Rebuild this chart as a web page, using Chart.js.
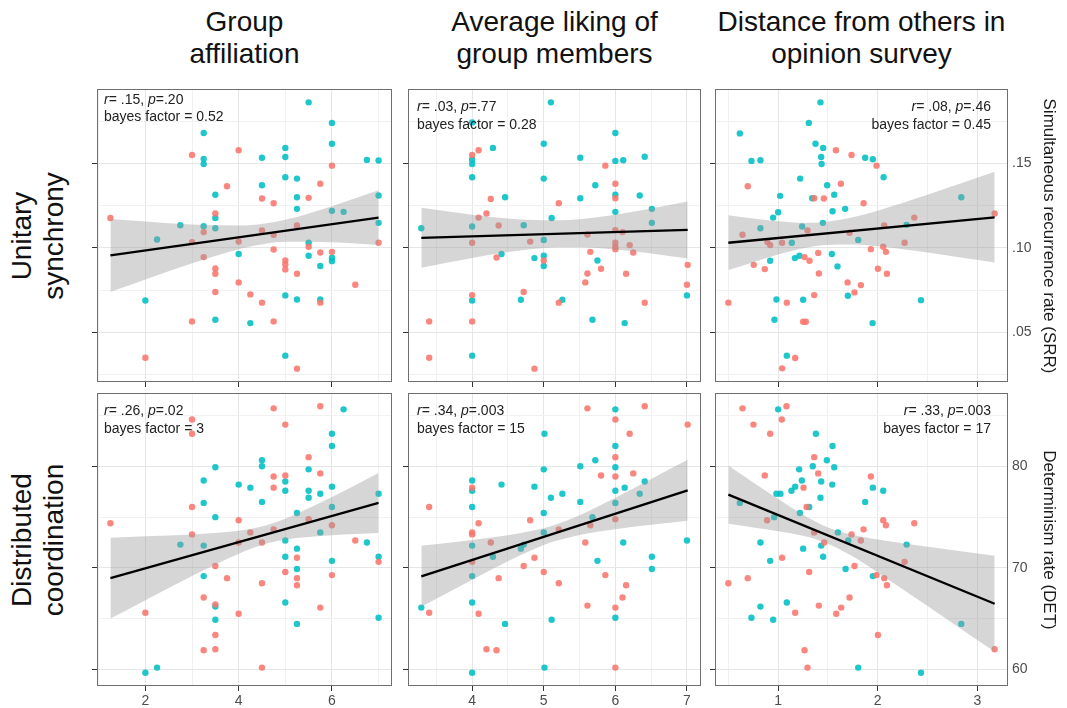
<!DOCTYPE html>
<html>
<head>
<meta charset="utf-8">
<script src="https://cdn.jsdelivr.net/npm/chart.js@4.4.1/dist/chart.umd.min.js"></script>
<style>
  html,body{margin:0;padding:0;}
  body{width:1067px;height:708px;overflow:hidden;background:#fff;position:relative;font-family:"Liberation Sans",Arial,sans-serif;}
  canvas{position:absolute;}
  .coltitle{position:absolute;width:340px;text-align:center;font-size:28px;line-height:32px;color:#111;top:6px;}
  .rowlab{position:absolute;width:260px;height:64px;line-height:32px;font-size:28px;text-align:center;color:#111;transform:rotate(-90deg);}
  .rtitle{position:absolute;width:360px;height:20px;line-height:20px;font-size:17px;text-align:center;color:#1a1a1a;transform:rotate(90deg);white-space:nowrap;}
  .stat{position:absolute;font-size:14px;line-height:17.5px;color:#222;white-space:nowrap;}
</style>
</head>
<body>
<script>
// ---------- categories / labels ----------
const colTitles = ['Group<br>affiliation', 'Average liking of<br>group members', 'Distance from others in<br>opinion survey'];
const rowTitles = ['Unitary<br>synchrony', 'Distributed<br>coordination'];
const rightTitles = ['Simultaneous recurrence rate (SRR)', 'Determinism rate (DET)'];
const statR = ['.15', '.03', '.08', '.26', '.34', '.33'];
const statP = ['.20', '.77', '.46', '.02', '.003', '.003'];
const statBF = ['0.52', '0.28', '0.45', '3', '15', '17'];

// ---------- axis ranges & ticks ----------
const affilRange = [0.9625, 7.2875];
const likingRange = [3.104, 7.196];
const distRange = [0.366, 3.308];
const srrRange = [0.0205, 0.1941];
const detRange = [58.39, 87.21];
const affilGridX = [1, 2, 3, 4, 5, 6, 7];
const affilTickX = [2, 4, 6];
const likingGridX = [3.5, 4, 4.5, 5, 5.5, 6, 6.5, 7];
const likingTickX = [4, 5, 6, 7];
const distGridX = [0.5, 1, 1.5, 2, 2.5, 3];
const distTickX = [1, 2, 3];
const srrGridY = [0.025, 0.05, 0.075, 0.10, 0.125, 0.15, 0.175];
const srrTickY = [0.05, 0.10, 0.15];
const srrTickLabels = ['.05', '.10', '.15'];
const detGridY = [60, 65, 70, 75, 80, 85];
const detTickY = [60, 70, 80];
const detTickLabels = ['60', '70', '80'];

// ---------- series: SRR (top row) ----------
const affilSrrRed = [[1.25,.1177],[4,.1578],[3,.155],[6,.1487],[5.75,.138],[3.75,.1365],[4.5,.1292],[5.5,.1296],[4.75,.1264],[3.5,.1203],[3.25,.1093],[4.5,.1103],[4.75,.1077],[3,.1034],[4,.1037],[7,.103],[5.5,.1006],[4.75,.099],[5.75,.0972],[6,.0976],[3.25,.0945],[5,.0925],[5,.0901],[5,.0872],[3.5,.0878],[3.5,.0846],[5.25,.0846],[4,.0795],[6.5,.0781],[3.5,.0738],[4.25,.0724],[5.75,.0675],[4.5,.0675],[3,.0564],[4.75,.0564],[2,.0349],[5.25,.0284],[5.25,.1132]];
const affilSrrTeal = [[5.5,.1862],[6,.174],[3.25,.168],[6,.1617],[5,.1592],[5,.1538],[4.5,.1534],[3.25,.1527],[3.25,.1497],[6.75,.1521],[7,.1517],[5,.1418],[5.25,.141],[3.5,.1314],[4.5,.1371],[5.25,.13],[7,.131],[5.25,.1231],[6,.1219],[6.25,.1213],[3.5,.1177],[2.75,.1134],[3.25,.1128],[7,.1148],[3.5,.1116],[2.25,.1049],[5.5,.103],[4,.0963],[5.5,.0953],[6,.0941],[6,.0921],[5.75,.0892],[5,.0718],[2,.0688],[5.25,.0694],[5.75,.0694],[3.5,.0574],[4.25,.0554],[5,.0361]];
const likingSrrRed = [[4.09,.1578],[4,.155],[5.86,.1487],[6,.138],[6,.1294],[4.26,.129],[5.21,.1264],[4.2,.1203],[4.09,.1179],[4.37,.1132],[6,.1105],[6.1,.1093],[5.61,.1079],[4.81,.1037],[4,.103],[6,.103],[6,.1006],[6,.0992],[6.2,.1016],[6.25,.0972],[5.65,.0976],[4.34,.0943],[5,.0925],[7.01,.0899],[5.8,.0876],[5.61,.0848],[6.15,.0846],[5.58,.0795],[7,.0781],[4,.072],[4.72,.0738],[5.21,.0675],[6.41,.0675],[3.4,.0564],[4,.0564],[3.4,.0349],[4.87,.0284]];
const likingSrrTeal = [[5.1,.1862],[6,.168],[4,.1743],[5,.1617],[4.29,.1592],[4,.1523],[4,.1497],[5.51,.1534],[6,.1515],[6.11,.1519],[6.41,.154],[4,.1418],[5,.141],[5.72,.1371],[6,.1314],[5.51,.1294],[6.34,.131],[4.46,.13],[6.51,.1231],[6,.1213],[5.11,.1177],[6.51,.1148],[3.29,.1116],[4,.1126],[4.72,.1134],[5,.1047],[5,.0953],[4.41,.0963],[4.87,.0939],[5.75,.0925],[5,.0892],[7,.0718],[4,.0688],[4.68,.0692],[5.26,.0692],[5.68,.0574],[6.13,.0554],[4,.0361]];
const distSrrRed = [[1.58,.1578],[1.737,.155],[1.988,.1487],[0.695,.1365],[1.63,.138],[1.362,.1294],[1.459,.1292],[1.858,.1264],[2.367,.1179],[3.174,.1203],[2.065,.1132],[1.295,.1103],[1.717,.1089],[0.642,.1077],[0.893,.1034],[0.92,.1016],[1.04,.103],[2.27,.103],[2.055,.1006],[1.931,.0992],[2.082,.0976],[1.402,.097],[1.265,.0945],[1.315,.0923],[0.755,.0899],[0.866,.0874],[2.002,.0876],[1.409,.0848],[2.092,.0846],[1.697,.0795],[1.831,.0779],[1.767,.0736],[1.362,.072],[0.5,.0675],[1.087,.0675],[1.251,.0562],[1.278,.0562],[1.171,.0347],[1.04,.0286]];
const distSrrTeal = [[1.425,.1862],[1.308,.174],[0.615,.1678],[1.375,.1617],[1.452,.1592],[1.432,.1538],[0.732,.1515],[0.822,.1519],[1.436,.1497],[1.874,.1534],[1.951,.1525],[2.059,.1418],[1.221,.141],[1.492,.1371],[1.02,.1308],[1.563,.1314],[1.342,.1294],[2.839,.13],[1.673,.1231],[1.546,.1217],[1.0,.1211],[0.95,.1179],[1.449,.1148],[1.241,.1126],[0.822,.1116],[2.29,.1136],[1.137,.103],[1.804,.1047],[1.539,.0963],[1.214,.0953],[1.168,.0939],[0.92,.0923],[1.596,.089],[1.7,.0716],[0.983,.0694],[1.251,.0692],[2.434,.069],[0.963,.0574],[1.948,.0554],[1.087,.0361]];

// ---------- series: DET (bottom row) ----------
const affilDetRed = [[5.75,85.9],[4.75,85.7],[3,84.6],[3,83.2],[5,84.1],[5.5,80.9],[5.75,79.3],[4.75,79],[5,79.1],[4.75,77.9],[3,76],[1.25,74.4],[4,74.7],[5.5,74.8],[6,74.2],[4.75,73.8],[4.25,73.5],[3,73.3],[4.5,72.5],[4,72.5],[6.5,72.7],[5.25,71],[7,70.6],[3.5,70.2],[5,69.6],[6,69.3],[3.75,69],[5.25,69],[4.5,68.5],[5.25,68.3],[3.25,67.1],[3.5,66.4],[5.75,66.1],[2,65.6],[4,65.5],[3.5,63.4],[3.25,61.9],[3.5,62],[4.5,60.2]];
const affilDetTeal = [[6.25,85.6],[6,83.2],[6,82],[4.5,80.6],[4.5,80],[3.5,79.9],[5.5,79.7],[3.25,78.6],[5,78.5],[4,78.2],[4.25,77.9],[6,78],[5,77.6],[5.5,77.6],[5.5,76.9],[5.75,77.3],[7,77.3],[4.5,76.5],[3.25,76.4],[6,76],[3.5,75],[5.25,75.4],[5.75,73.5],[5,72.7],[6.75,72.5],[2.75,72.3],[3.25,72.2],[5.25,71.9],[5,71.1],[7,71.1],[6,70.7],[5.25,69.9],[3.25,69.2],[5,66.6],[3.5,66.2],[3.5,64.9],[7,65.1],[5.25,64.5],[2.25,60.2],[2,59.7]];
const likingDetRed = [[5.61,85.7],[6.41,85.9],[6,84.6],[7.01,84.1],[6.2,83.2],[6,80.9],[6.25,79.3],[5.8,79.1],[6,79],[4,77.9],[3.4,76],[4.81,74.7],[6,74.8],[4.09,74.4],[5.65,74.2],[5.21,73.8],[4,73.5],[4,73.3],[4.26,72.5],[5.58,72.5],[4.87,71],[4,70.6],[4.72,70.2],[5,69.6],[5.86,69.3],[4.37,69],[5.21,68.5],[6.15,68.3],[6.1,67.1],[5.61,66.3],[6,66.1],[3.4,65.6],[4.09,65.5],[4.2,62],[4.34,61.9],[6,60.2]];
const likingDetTeal = [[6,85.6],[5.01,83.2],[6,82],[5.72,80.6],[5.51,80],[6,79.9],[5,79.7],[4,78.6],[6.41,78.5],[4.41,78.2],[4.87,78],[6.13,77.9],[4,77.6],[6,77.6],[5.26,77.3],[6.34,77.3],[5.1,76.9],[5.51,76.5],[6,76.4],[4,76],[5,75.4],[5.68,75],[5,73.5],[6.11,72.5],[7,72.7],[4.72,72.3],[4.68,71.9],[4,72.2],[4.29,71.1],[6.51,71.1],[5.75,70.7],[6.51,69.9],[4,69.2],[4,66.6],[3.29,66.1],[6,65.1],[5.11,64.9],[4.46,64.5],[5.01,60.2],[4,59.7]];
const distDetRed = [[0.642,85.7],[1.084,85.9],[0.752,84.1],[1.037,84.6],[0.92,83.2],[1.362,80.9],[1.402,79.3],[0.866,79.1],[1.931,79],[1.255,77.9],[1.285,76],[0.889,74.7],[2.055,74.7],[2.367,74.4],[2.082,74.2],[1.858,73.8],[1.362,73.5],[1.737,73.3],[1.462,72.5],[1.831,72.7],[1.04,71],[2.27,70.6],[1.767,70.2],[1.312,69.6],[1.988,69.3],[2.065,69],[0.695,69],[0.5,68.5],[2.092,68.3],[1.717,67.1],[1.409,66.3],[1.633,66.1],[1.171,65.6],[1.583,65.5],[2.002,63.4],[1.265,61.9],[3.174,62],[1.295,60.2]];
const distDetTeal = [[1.0,85.6],[1.379,83.2],[1.546,82],[1.489,80.6],[1.348,80],[1.563,79.9],[1.211,79.7],[1.238,78.6],[1.432,78.5],[1.171,78],[1.543,78.2],[1.951,77.9],[1.134,77.6],[2.055,77.6],[0.983,77.3],[1.023,77.3],[1.425,76.9],[1.874,76.5],[0.615,76.4],[1.312,76],[1.218,75.4],[0.96,75],[1.6,73.5],[1.704,72.7],[0.822,72.5],[2.29,72.3],[1.432,72.2],[1.251,71.9],[1.452,71.1],[0.92,70.7],[1.677,69.9],[1.951,69.2],[1.087,66.6],[0.822,66.2],[0.732,65.1],[0.95,64.9],[2.839,64.5],[1.804,60.2],[2.434,59.7]];

// ---------- fitted lines & confidence bands ----------
const affilSrrFitX = [1.25, 7], affilSrrFitY = [.0955, .1179];
const likingSrrFitX = [3.29, 7.01], likingSrrFitY = [.1059, .1106];
const distSrrFitX = [0.5, 3.174], distSrrFitY = [.103, .1181];
const affilDetFitX = [1.25, 7], affilDetFitY = [69.0, 76.4];
const likingDetFitX = [3.29, 7.01], likingDetFitY = [69.18, 77.64];
const distDetFitX = [0.5, 3.174], distDetFitY = [77.21, 66.48];

const affilSrrBandX = [1.25,2,3,4,4.6,5,6,7];
const affilSrrBandLo = [.0739,.0812,.0908,.0992,.1026,.1036,.1033,.1017];
const affilSrrBandHi = [.1171,.1156,.1138,.1132,.1146,.1166,.1247,.1341];
const likingSrrBandX = [3.29,4,4.5,5,5.2,5.5,6,6.5,7.01];
const likingSrrBandLo = [.0882,.094,.0975,.0999,.1003,.1004,.099,.0967,.0937];
const likingSrrBandHi = [.1237,.1196,.1173,.1163,.1163,.117,.1196,.1233,.1275];
const distSrrBandX = [0.5,0.75,1,1.25,1.47,1.75,2,2.5,3.174];
const distSrrBandLo = [.0868,.0915,.096,.0997,.1017,.102,.1009,.0972,.0913];
const distSrrBandHi = [.1193,.1173,.1157,.1148,.1153,.1181,.122,.1314,.145];
const affilDetBandX = [1.25,2,3,4,4.6,5,6,7];
const affilDetBandLo = [65.02,66.83,69.2,71.41,72.41,72.81,73.23,73.45];
const affilDetBandHi = [72.98,73.11,73.3,73.67,74.21,74.85,76.99,79.35];
const likingDetBandX = [3.29,4,4.5,5,5.15,5.5,6,6.5,7.01];
const likingDetBandLo = [66.18,68.84,70.66,72.25,72.62,73.25,73.81,74.24,74.64];
const likingDetBandHi = [72.18,72.76,73.22,73.91,74.22,75.19,76.91,78.76,80.64];
const distDetBandX = [0.5,0.75,1,1.25,1.5,1.75,2,2.5,3.174];
const distDetBandLo = [74.34,73.99,73.62,73.16,72.39,71.12,69.56,66.26,61.75];
const distDetBandHi = [80.08,78.41,76.78,75.24,73.99,73.26,72.8,72.08,71.21];

// ---------- layout ----------
const colEdges = [[97, 392], [408, 701], [715, 1008]];
const rowEdges = [[89, 382], [393, 686]];
const RED = 'rgba(248,118,109,0.88)';
const TEAL = 'rgba(0,191,196,0.88)';

Chart.defaults.font.family = '"Liberation Sans", Arial, sans-serif';

const xAxes = [
  {range: affilRange, grid: affilGridX, ticks: affilTickX},
  {range: likingRange, grid: likingGridX, ticks: likingTickX},
  {range: distRange, grid: distGridX, ticks: distTickX}
];
const yAxes = [
  {range: srrRange, grid: srrGridY, ticks: srrTickY, labels: srrTickLabels},
  {range: detRange, grid: detGridY, ticks: detTickY, labels: detTickLabels}
];
const panels = [
  {r:0,c:0, red:affilSrrRed, teal:affilSrrTeal, fx:affilSrrFitX, fy:affilSrrFitY, bx:affilSrrBandX, lo:affilSrrBandLo, hi:affilSrrBandHi},
  {r:0,c:1, red:likingSrrRed, teal:likingSrrTeal, fx:likingSrrFitX, fy:likingSrrFitY, bx:likingSrrBandX, lo:likingSrrBandLo, hi:likingSrrBandHi},
  {r:0,c:2, red:distSrrRed, teal:distSrrTeal, fx:distSrrFitX, fy:distSrrFitY, bx:distSrrBandX, lo:distSrrBandLo, hi:distSrrBandHi},
  {r:1,c:0, red:affilDetRed, teal:affilDetTeal, fx:affilDetFitX, fy:affilDetFitY, bx:affilDetBandX, lo:affilDetBandLo, hi:affilDetBandHi},
  {r:1,c:1, red:likingDetRed, teal:likingDetTeal, fx:likingDetFitX, fy:likingDetFitY, bx:likingDetBandX, lo:likingDetBandLo, hi:likingDetBandHi},
  {r:1,c:2, red:distDetRed, teal:distDetTeal, fx:distDetFitX, fy:distDetFitY, bx:distDetBandX, lo:distDetBandLo, hi:distDetBandHi}
];

const near = (arr, v) => arr.some(a => Math.abs(a - v) < 1e-6);
const pts = arr => arr.map(p => ({x: p[0], y: p[1]}));
const zip = (xs, ys) => xs.map((x, i) => ({x: x, y: ys[i]}));
const noPad = s => { s.paddingTop = 0; s.paddingBottom = 0; s.paddingLeft = 0; s.paddingRight = 0; };

const boxPlugin = {
  id: 'panelBox',
  afterDraw(chart) {
    const a = chart.chartArea, ctx = chart.ctx;
    ctx.save();
    ctx.strokeStyle = '#6f6f6f';
    ctx.lineWidth = 1;
    ctx.strokeRect(Math.round(a.left) + 0.5, Math.round(a.top) + 0.5, Math.round(a.right - a.left) - 1, Math.round(a.bottom - a.top) - 1);
    ctx.restore();
  }
};

panels.forEach((p, idx) => {
  const [L, R] = colEdges[p.c];
  const [T, B] = rowEdges[p.r];
  const xa = xAxes[p.c], ya = yAxes[p.r];
  const hasRight = p.c === 2;
  const bottomRow = p.r === 1;
  const rightW = hasRight ? 45 : 2;
  const bottomH = bottomRow ? (708 - B) : 7;
  const W = (R - L) + 10 + rightW, H = (B - T) + 4 + bottomH;
  const cv = document.createElement('canvas');
  cv.width = W; cv.height = H;
  cv.style.left = (L - 10) + 'px'; cv.style.top = (T - 4) + 'px';
  cv.style.width = W + 'px'; cv.style.height = H + 'px';
  document.body.appendChild(cv);

  const scales = {
    x: {
      type: 'linear', position: 'bottom', min: xa.range[0], max: xa.range[1],
      afterBuildTicks: s => { s.ticks = xa.grid.map(v => ({value: v})); },
      afterFit: s => { s.height = bottomH; noPad(s); },
      border: {display: false},
      grid: {
        color: c => near(xa.ticks, c.tick.value) ? '#e6e6e6' : '#f1f1f1',
        lineWidth: 1, drawTicks: true, tickLength: 5,
        tickColor: c => near(xa.ticks, c.tick.value) ? '#333333' : 'rgba(0,0,0,0)'
      },
      ticks: {
        display: bottomRow, autoSkip: false, maxRotation: 0, padding: 2,
        color: '#4d4d4d', font: {size: 14},
        callback: v => near(xa.ticks, v) ? String(v) : ''
      }
    },
    y: {
      type: 'linear', position: 'left', min: ya.range[0], max: ya.range[1],
      afterBuildTicks: s => { s.ticks = ya.grid.map(v => ({value: v})); },
      afterFit: s => { s.width = 10; noPad(s); },
      border: {display: false},
      grid: {
        color: c => near(ya.ticks, c.tick.value) ? '#e6e6e6' : '#f1f1f1',
        lineWidth: 1, drawTicks: true, tickLength: 5,
        tickColor: c => near(ya.ticks, c.tick.value) ? '#333333' : 'rgba(0,0,0,0)'
      },
      ticks: {display: false}
    }
  };
  if (hasRight) {
    scales.y2 = {
      type: 'linear', position: 'right', min: ya.range[0], max: ya.range[1],
      afterBuildTicks: s => { s.ticks = ya.ticks.map(v => ({value: v})); },
      afterFit: s => { s.width = rightW; noPad(s); },
      border: {display: false},
      grid: {display: false, drawTicks: false},
      ticks: {
        padding: 4, color: '#4d4d4d', font: {size: 14},
        callback: v => { const i = ya.ticks.findIndex(t => Math.abs(t - v) < 1e-6); return i >= 0 ? ya.labels[i] : ''; }
      }
    };
  }

  new Chart(cv, {
    type: 'line',
    data: {
      datasets: [
        {label: 'band-lo', data: zip(p.bx, p.lo), borderColor: 'rgba(0,0,0,0)', borderWidth: 0, pointRadius: 0, fill: false, order: 2, cubicInterpolationMode: 'monotone'},
        {label: 'band-hi', data: zip(p.bx, p.hi), borderColor: 'rgba(0,0,0,0)', borderWidth: 0, pointRadius: 0, fill: '-1', backgroundColor: 'rgba(153,153,153,0.4)', order: 2, cubicInterpolationMode: 'monotone'},
        {label: 'fit', data: zip(p.fx, p.fy), borderColor: '#000', borderWidth: 2.3, pointRadius: 0, fill: false, order: 1},
        {label: 'group A', data: pts(p.red), showLine: false, pointRadius: 3.2, pointBorderWidth: 0, pointBackgroundColor: RED, pointBorderColor: RED, order: 3},
        {label: 'group B', data: pts(p.teal), showLine: false, pointRadius: 3.2, pointBorderWidth: 0, pointBackgroundColor: TEAL, pointBorderColor: TEAL, order: 3}
      ]
    },
    options: {
      responsive: false, animation: false, devicePixelRatio: 1,
      layout: {autoPadding: false, padding: {left: 0, top: 4, right: hasRight ? 0 : rightW, bottom: 0}},
      plugins: {legend: {display: false}, tooltip: {enabled: false}},
      scales: scales
    },
    plugins: [boxPlugin]
  });

  // statistics annotation
  const st = document.createElement('div');
  st.className = 'stat';
  st.innerHTML = '<i>r</i>= ' + statR[idx] + ', <i>p</i>=' + statP[idx] + '<br>bayes factor = ' + statBF[idx];
  if (p.c === 2) { st.style.right = '76px'; st.style.textAlign = 'right'; }
  else { st.style.left = (p.c === 0 ? 104 : 417) + 'px'; }
  st.style.top = (p.r === 0 ? (p.c === 0 ? 90.5 : 98) : 402) + 'px';
  document.body.appendChild(st);
});

// column titles
colTitles.forEach((t, c) => {
  const d = document.createElement('div');
  d.className = 'coltitle';
  d.innerHTML = t;
  d.style.left = ((colEdges[c][0] + colEdges[c][1]) / 2 - 170) + 'px';
  document.body.appendChild(d);
});
// row labels (left) and axis titles (right)
rowTitles.forEach((t, r) => {
  const cy = (rowEdges[r][0] + rowEdges[r][1]) / 2;
  const d = document.createElement('div');
  d.className = 'rowlab';
  d.innerHTML = t;
  d.style.left = (38 - 130) + 'px';
  d.style.top = (cy - 32) + 'px';
  document.body.appendChild(d);
  const e = document.createElement('div');
  e.className = 'rtitle';
  e.textContent = rightTitles[r];
  e.style.left = (1049 - 180) + 'px';
  e.style.top = (cy - 10) + 'px';
  document.body.appendChild(e);
});
</script>
</body>
</html>
